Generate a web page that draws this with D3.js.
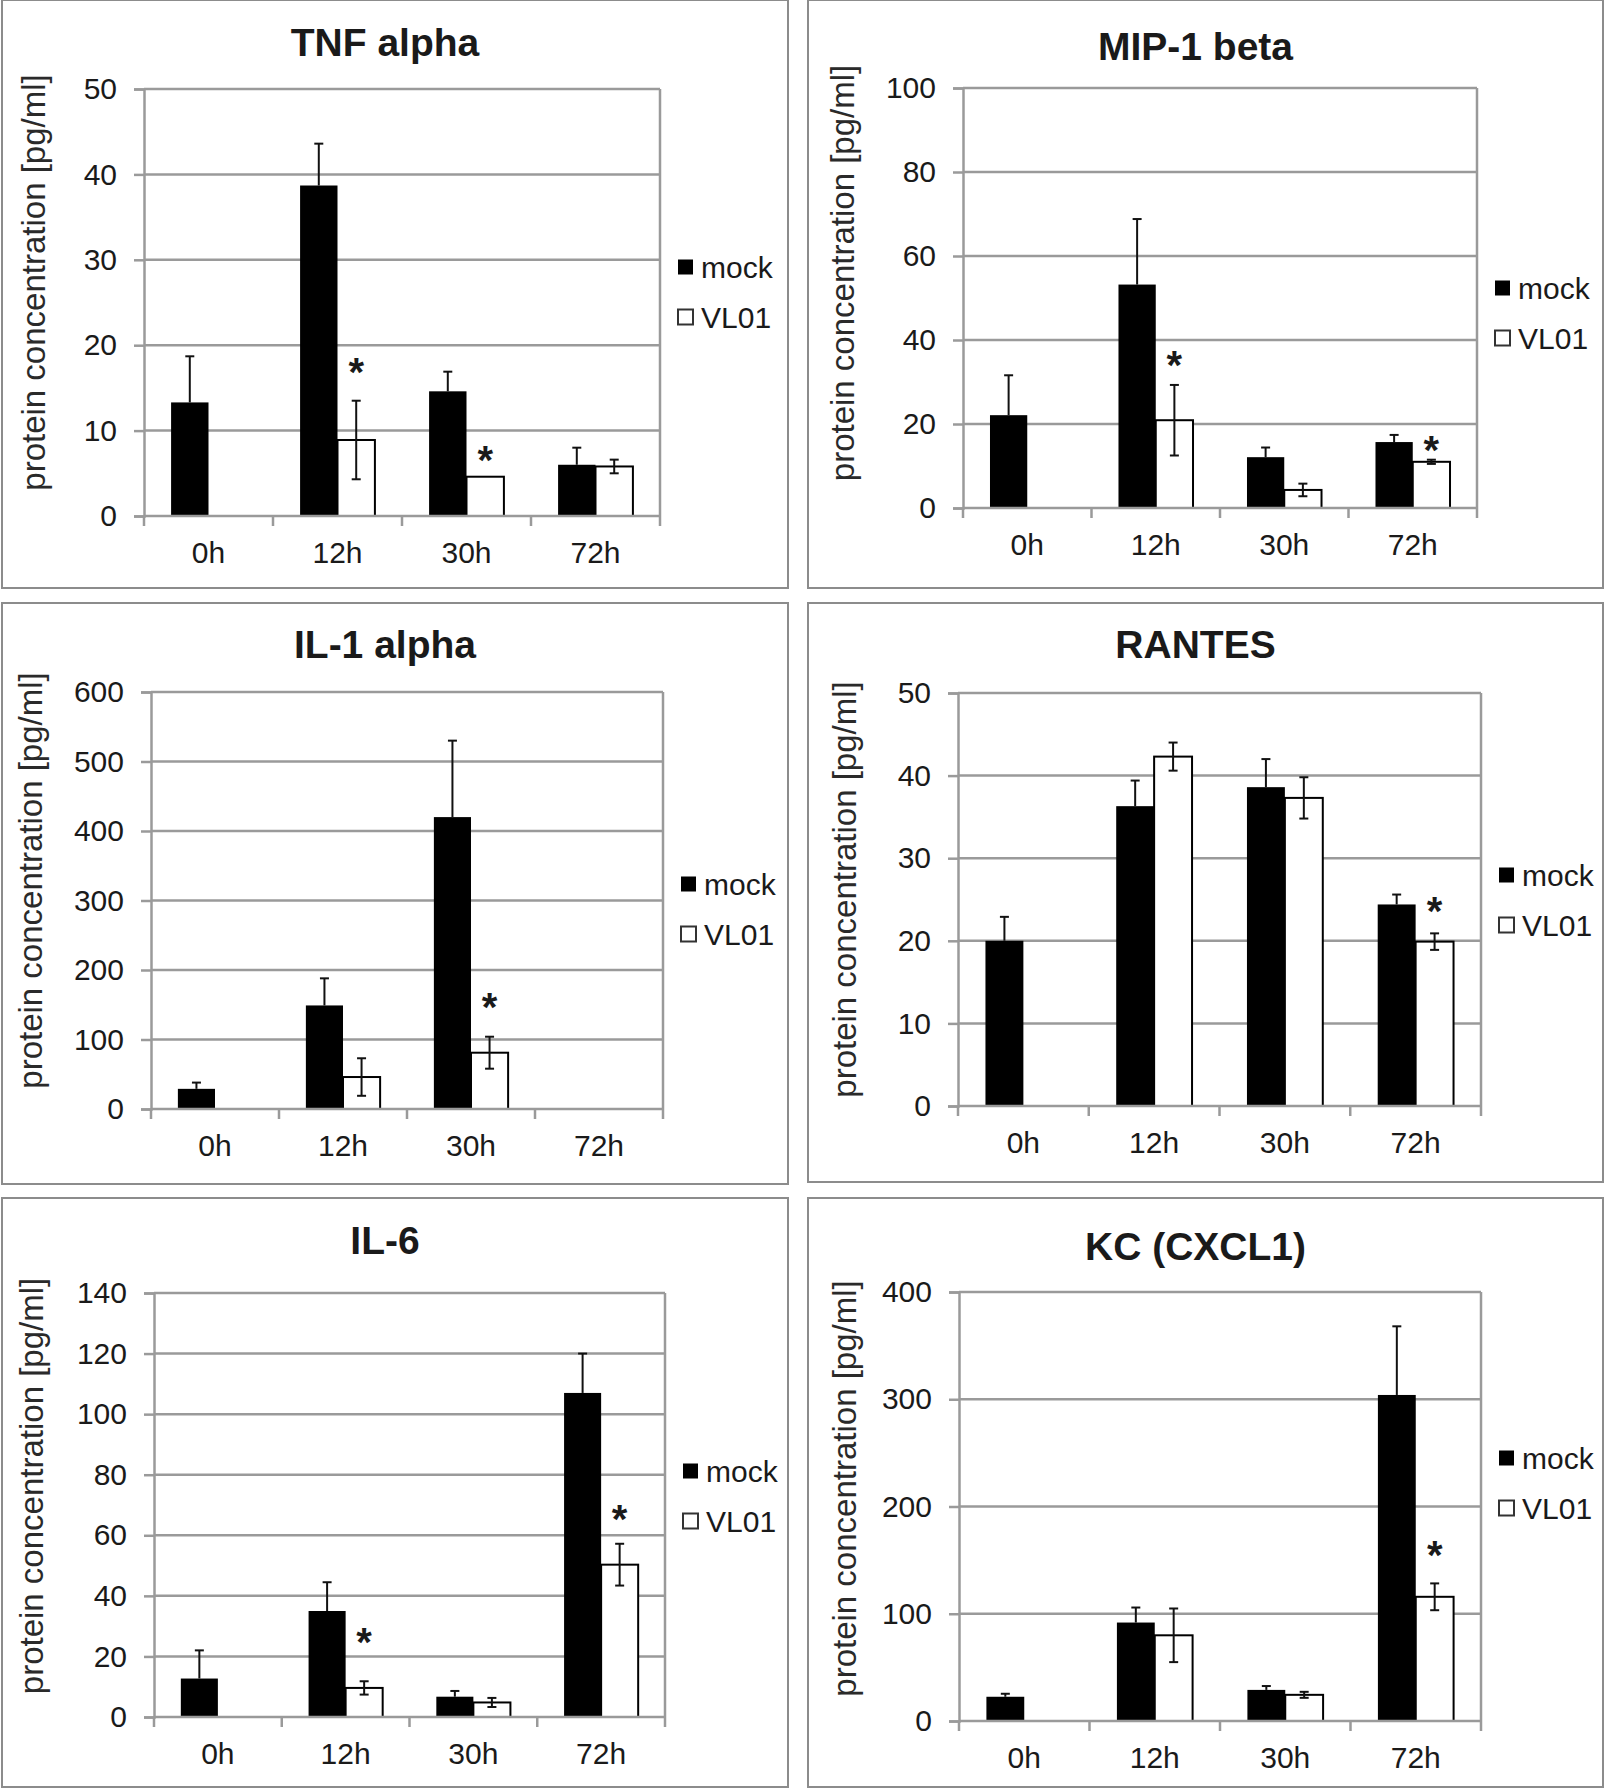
<!DOCTYPE html>
<html>
<head>
<meta charset="utf-8">
<script src="https://cdn.jsdelivr.net/npm/d3@7"></script>
<style>
  body { margin: 0; background: #fff; }
  svg { display: block; font-family: "Liberation Sans", Arial, sans-serif; }
</style>
</head>
<body>
<div id="chart"></div>
<script>
// Categories and series
const categories = ["0h", "12h", "30h", "72h"];
const series = ["mock", "VL01"];

// TNF alpha
const tnfMock = [13.3, 38.7, 14.6, 6.0];
const tnfMockErr = [5.4, 4.9, 2.3, 2.0];
const tnfVl = [null, 8.9, 4.6, 5.8];
const tnfVlErr = [null, 4.6, 0, 0.8];
const tnfStars = [null, 17.9, 7.6, null];
const tnfTicks = [0, 10, 20, 30, 40, 50];

// MIP-1 beta
const mipMock = [22.1, 53.2, 12.1, 15.7];
const mipMockErr = [9.5, 15.6, 2.3, 1.7];
const mipVl = [null, 20.9, 4.3, 11.0];
const mipVlErr = [null, 8.4, 1.5, 0.5];
const mipStars = [null, 36.3, null, 16.0];
const mipTicks = [0, 20, 40, 60, 80, 100];

// IL-1 alpha
const il1Mock = [29, 149, 420, null];
const il1MockErr = [9, 39, 110, null];
const il1Vl = [null, 46, 81, null];
const il1VlErr = [null, 27, 23, null];
const il1Stars = [null, null, 159, null];
const il1Ticks = [0, 100, 200, 300, 400, 500, 600];

// RANTES
const rantesMock = [20.0, 36.3, 38.6, 24.4];
const rantesMockErr = [2.9, 3.1, 3.4, 1.2];
const rantesVl = [null, 42.3, 37.3, 19.9];
const rantesVlErr = [null, 1.7, 2.5, 1.0];
const rantesStars = [null, null, null, 24.7];
const rantesTicks = [0, 10, 20, 30, 40, 50];

// IL-6
const il6Mock = [12.7, 35.0, 6.7, 107];
const il6MockErr = [9.3, 9.5, 1.9, 13];
const il6Vl = [null, 9.6, 4.8, 50.3];
const il6VlErr = [null, 2.2, 1.5, 6.9];
const il6Stars = [null, 27.7, null, 68.5];
const il6Ticks = [0, 20, 40, 60, 80, 100, 120, 140];

// KC (CXCL1)
const kcMock = [22.6, 91.8, 29, 304];
const kcMockErr = [2.8, 14, 3.6, 64];
const kcVl = [null, 79.9, 24.4, 115.8];
const kcVlErr = [null, 25, 2.8, 12.5];
const kcStars = [null, null, null, 163];
const kcTicks = [0, 100, 200, 300, 400];

const panels = [
    {title: "TNF alpha", mock: tnfMock, mockErr: tnfMockErr, vl: tnfVl, vlErr: tnfVlErr, stars: tnfStars, ticks: tnfTicks},
    {title: "MIP-1 beta", mock: mipMock, mockErr: mipMockErr, vl: mipVl, vlErr: mipVlErr, stars: mipStars, ticks: mipTicks},
    {title: "IL-1 alpha", mock: il1Mock, mockErr: il1MockErr, vl: il1Vl, vlErr: il1VlErr, stars: il1Stars, ticks: il1Ticks},
    {title: "RANTES", mock: rantesMock, mockErr: rantesMockErr, vl: rantesVl, vlErr: rantesVlErr, stars: rantesStars, ticks: rantesTicks},
    {title: "IL-6", mock: il6Mock, mockErr: il6MockErr, vl: il6Vl, vlErr: il6VlErr, stars: il6Stars, ticks: il6Ticks},
    {title: "KC (CXCL1)", mock: kcMock, mockErr: kcMockErr, vl: kcVl, vlErr: kcVlErr, stars: kcStars, ticks: kcTicks}
];

// Layout of each panel (frame box, plot box, text offsets)
const layout = [
    {fx: 2, fy: 0, fw: 786, fh: 588, x0: 144, y0: 89, x1: 660, y1: 516, legY: 267, titleDy: 42, yTitleDx: 31, yTitleDy: -20},
    {fx: 808, fy: 0, fw: 795, fh: 588, x0: 963, y0: 88, x1: 1477, y1: 508, legY: 288, titleDy: 46, yTitleDx: 34, yTitleDy: -25},
    {fx: 2, fy: 603, fw: 786, fh: 581, x0: 151, y0: 692, x1: 663, y1: 1109, legY: 884, titleDy: 41, yTitleDx: 28, yTitleDy: -20},
    {fx: 808, fy: 603, fw: 795, fh: 579, x0: 958, y0: 693, x1: 1481, y1: 1106, legY: 875, titleDy: 41, yTitleDx: 36, yTitleDy: -10},
    {fx: 2, fy: 1198, fw: 786, fh: 589, x0: 154, y0: 1293, x1: 665, y1: 1717, legY: 1471, titleDy: 42, yTitleDx: 29, yTitleDy: -19},
    {fx: 808, fy: 1198, fw: 795, fh: 589, x0: 959, y0: 1292, x1: 1481, y1: 1721, legY: 1458, titleDy: 48, yTitleDx: 36, yTitleDy: -18}
];

const gridColor = "#9a9a9a";
const textColor = "#1a1a1a";

const svg = d3.select("#chart")
    .append("svg")
    .attr("width", 1606)
    .attr("height", 1792);

svg.append("rect").attr("width", 1606).attr("height", 1792).attr("fill", "#fff");

panels.forEach((p, i) => drawPanel(p, layout[i]));

function drawPanel(p, L) {
    const g = svg.append("g");

    // outer frame
    g.append("rect")
        .attr("x", L.fx).attr("y", L.fy)
        .attr("width", L.fw).attr("height", L.fh)
        .attr("fill", "none")
        .attr("stroke", "#8c8c8c")
        .attr("stroke-width", 2);

    const x = d3.scaleBand().domain(categories).range([L.x0, L.x1]).padding(0);
    const bw = x.bandwidth();
    const inner = d3.scaleBand().domain(series).range([bw * 0.21, bw * 0.79]).padding(0);
    const y = d3.scaleLinear().domain([0, d3.max(p.ticks)]).range([L.y1, L.y0]);

    // gridlines
    g.selectAll(".grid")
        .data(p.ticks.slice(1))
        .enter()
        .append("line")
        .attr("x1", L.x0).attr("x2", L.x1)
        .attr("y1", d => y(d)).attr("y2", d => y(d))
        .attr("stroke", gridColor)
        .attr("stroke-width", 2.5);

    // right border of plot area
    g.append("line")
        .attr("x1", L.x1).attr("x2", L.x1)
        .attr("y1", L.y0).attr("y2", L.y1)
        .attr("stroke", gridColor).attr("stroke-width", 2.5);

    // bars
    const rows = categories.map((c, k) => ({
        cat: c,
        mock: p.mock[k], mockErr: p.mockErr[k],
        vl: p.vl[k], vlErr: p.vlErr[k],
        star: p.stars[k]
    }));

    const bars = [];
    rows.forEach(r => {
        if (r.mock != null) bars.push({cat: r.cat, s: "mock", v: r.mock, e: r.mockErr});
        if (r.vl != null) bars.push({cat: r.cat, s: "VL01", v: r.vl, e: r.vlErr});
    });

    g.selectAll(".bar")
        .data(bars)
        .enter()
        .append("rect")
        .attr("x", d => x(d.cat) + inner(d.s))
        .attr("y", d => y(d.v))
        .attr("width", inner.bandwidth())
        .attr("height", d => y(0) - y(d.v))
        .attr("fill", d => d.s === "mock" ? "#000" : "#fff")
        .attr("stroke", "#000")
        .attr("stroke-width", d => d.s === "mock" ? 0 : 2);

    // error bars (lower half of the mock bars is hidden inside the black bar)
    const errs = bars.filter(d => d.e > 0);
    const ex = d => x(d.cat) + inner(d.s) + inner.bandwidth() / 2;
    const lo = d => d.s === "mock" ? d.v : Math.max(0, d.v - d.e);
    const capW = 4.5;
    const eg = g.selectAll(".err").data(errs).enter().append("g");
    eg.append("line")
        .attr("x1", ex).attr("x2", ex)
        .attr("y1", d => y(lo(d))).attr("y2", d => y(d.v + d.e))
        .attr("stroke", "#111").attr("stroke-width", 2);
    eg.append("line")
        .attr("x1", d => ex(d) - capW).attr("x2", d => ex(d) + capW)
        .attr("y1", d => y(d.v + d.e)).attr("y2", d => y(d.v + d.e))
        .attr("stroke", "#111").attr("stroke-width", 2);
    eg.filter(d => d.s !== "mock").append("line")
        .attr("x1", d => ex(d) - capW).attr("x2", d => ex(d) + capW)
        .attr("y1", d => y(lo(d))).attr("y2", d => y(lo(d)))
        .attr("stroke", "#111").attr("stroke-width", 2);

    // significance stars
    g.selectAll(".star")
        .data(rows.filter(r => r.star != null))
        .enter()
        .append("text")
        .attr("x", d => x(d.cat) + inner("VL01") + inner.bandwidth() / 2)
        .attr("y", d => y(d.star) + 23)
        .attr("text-anchor", "middle")
        .attr("font-size", 40)
        .attr("font-weight", "bold")
        .attr("fill", textColor)
        .text("*");

    // y axis
    const yAxis = d3.axisLeft(y).tickValues(p.ticks).tickSize(10).tickPadding(17);
    const ya = g.append("g")
        .attr("transform", `translate(${L.x0},0)`)
        .call(yAxis);
    ya.select(".domain").attr("stroke", gridColor).attr("stroke-width", 2.5);
    ya.selectAll(".tick line").attr("stroke", gridColor).attr("stroke-width", 2.5);
    ya.selectAll(".tick text")
        .attr("font-size", 30)
        .attr("font-family", "Liberation Sans, Arial, sans-serif")
        .attr("fill", textColor);

    // x axis: labels at band centres, ticks at band boundaries
    const xAxis = d3.axisBottom(x).tickSize(0).tickPadding(26);
    const xa = g.append("g")
        .attr("transform", `translate(0,${L.y1})`)
        .call(xAxis);
    xa.select(".domain").remove();
    xa.selectAll(".tick text")
        .attr("font-size", 30)
        .attr("font-family", "Liberation Sans, Arial, sans-serif")
        .attr("fill", textColor);

    g.append("line")
        .attr("x1", L.x0).attr("x2", L.x1)
        .attr("y1", L.y1).attr("y2", L.y1)
        .attr("stroke", gridColor).attr("stroke-width", 2.5);

    const bounds = categories.map(c => x(c)).concat([L.x1]);
    g.selectAll(".xtick")
        .data(bounds)
        .enter()
        .append("line")
        .attr("x1", d => d).attr("x2", d => d)
        .attr("y1", L.y1).attr("y2", L.y1 + 10)
        .attr("stroke", gridColor).attr("stroke-width", 2.5);

    // y axis title
    const yMid = (L.y0 + L.y1) / 2 + L.yTitleDy;
    g.append("text")
        .attr("transform", `translate(${L.fx + L.yTitleDx},${yMid}) rotate(-90)`)
        .attr("text-anchor", "middle")
        .attr("dy", "0.35em")
        .attr("font-size", 33)
        .attr("fill", "#2a2a2a")
        .text("protein concentration [pg/ml]");

    // panel title
    g.append("text")
        .attr("x", L.fx + L.fw / 2 - 10)
        .attr("y", L.fy + L.titleDy)
        .attr("dy", "0.36em")
        .attr("text-anchor", "middle")
        .attr("font-size", 39)
        .attr("font-weight", "bold")
        .attr("fill", textColor)
        .text(p.title);

    // legend
    const lx = L.x1 + 18;
    const leg = g.selectAll(".legend")
        .data(series)
        .enter()
        .append("g")
        .attr("transform", (d, k) => `translate(${lx},${L.legY + k * 50})`);
    leg.append("rect")
        .attr("x", 0).attr("y", -7.5)
        .attr("width", 15).attr("height", 15)
        .attr("fill", d => d === "mock" ? "#000" : "#fff")
        .attr("stroke", d => d === "mock" ? "#000" : "#333")
        .attr("stroke-width", d => d === "mock" ? 0 : 2);
    leg.append("text")
        .attr("x", 23)
        .attr("dy", "0.36em")
        .attr("font-size", 30)
        .attr("fill", textColor)
        .text(d => d);
}
</script>
</body>
</html>
